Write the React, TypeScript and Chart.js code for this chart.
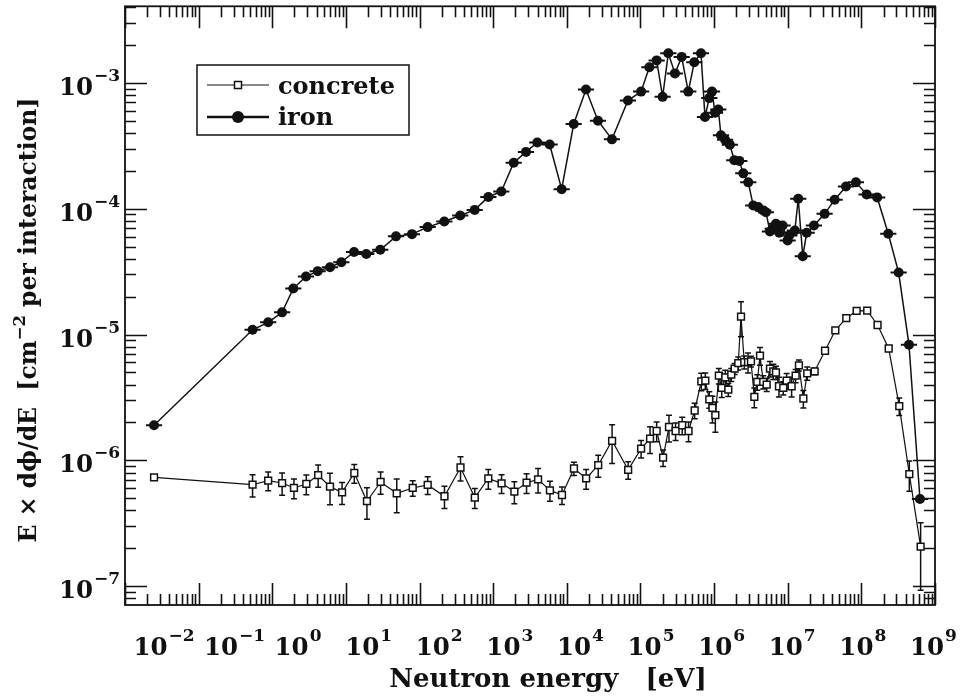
import React, { useEffect, useRef } from 'react';
import { Chart, registerables } from 'chart.js';
Chart.register(...registerables);

// ---------- data ----------
const concreteEnergy = [0.0248, 0.54, 0.88, 1.36, 1.97, 2.9, 4.2, 6.08, 8.87, 13.0,
  19.3, 29.6, 49, 80.8, 129, 218, 360, 563, 859, 1300,
  1940, 2840, 4070, 5900, 8600, 1.25e4, 1.83e4, 2.67e4, 4.12e4, 6.81e4,
  1.02e5, 1.35e5, 1.66e5, 2.03e5, 2.44e5, 3.0e5, 3.69e5, 4.5e5, 5.45e5, 6.7e5,
  7.6e5, 8.6e5, 9.5e5, 1.04e6, 1.16e6, 1.27e6, 1.42e6, 1.56e6, 1.71e6, 1.90e6,
  2.13e6, 2.32e6, 2.57e6, 2.89e6, 3.17e6, 3.52e6, 3.86e6, 4.2e6, 4.65e6, 5.18e6,
  5.74e6, 6.37e6, 6.92e6, 7.6e6, 8.7e6, 9.67e6, 1.13e7, 1.28e7, 1.42e7, 1.63e7,
  1.84e7, 2.32e7, 3.21e7, 4.43e7, 6.24e7, 8.63e7, 1.20e8, 1.66e8, 2.35e8, 3.27e8,
  4.48e8, 6.38e8];
const concreteFlux = [7.31e-7, 6.4e-7, 6.89e-7, 6.6e-7, 6.03e-7, 6.49e-7, 7.64e-7, 6.17e-7, 5.56e-7, 7.93e-7,
  4.73e-7, 6.73e-7, 5.47e-7, 6.03e-7, 6.37e-7, 5.18e-7, 8.77e-7, 5.06e-7, 7.18e-7, 6.56e-7,
  5.64e-7, 6.64e-7, 7.05e-7, 5.77e-7, 5.3e-7, 8.61e-7, 7.18e-7, 9.16e-7, 1.43e-6, 8.41e-7,
  1.24e-6, 1.49e-6, 1.71e-6, 1.05e-6, 1.84e-6, 1.71e-6, 1.9e-6, 1.71e-6, 2.49e-6, 4.25e-6,
  4.3e-6, 3.05e-6, 2.61e-6, 2.29e-6, 4.71e-6, 3.76e-6, 4.57e-6, 3.65e-6, 4.8e-6, 5.35e-6,
  5.93e-6, 1.39e-5, 6.04e-6, 6.04e-6, 6.12e-6, 3.19e-6, 4.2e-6, 6.79e-6, 4.2e-6, 4.0e-6,
  5.35e-6, 5.1e-6, 4.99e-6, 3.88e-6, 3.76e-6, 4.3e-6, 3.88e-6, 4.71e-6, 5.69e-6, 3.1e-6,
  4.92e-6, 5.1e-6, 7.43e-6, 1.08e-5, 1.35e-5, 1.54e-5, 1.55e-5, 1.19e-5, 7.74e-6, 2.7e-6,
  7.78e-7, 2.06e-7];
const concreteRelErr = [0.03, 0.2, 0.17, 0.2, 0.18, 0.18, 0.2, 0.28, 0.2, 0.17,
  0.28, 0.2, 0.3, 0.14, 0.16, 0.2, 0.22, 0.18, 0.18, 0.17,
  0.2, 0.18, 0.22, 0.18, 0.16, 0.12, 0.18, 0.2, 0.34, 0.16,
  0.16, 0.24, 0.18, 0.15, 0.24, 0.16, 0.16, 0.18, 0.14, 0.16,
  0.15, 0.15, 0.24, 0.27, 0.14, 0.16, 0.14, 0.12, 0.12, 0.1,
  0.12, 0.31, 0.12, 0.18, 0.1, 0.18, 0.14, 0.16, 0.12, 0.12,
  0.14, 0.14, 0.12, 0.18, 0.12, 0.14, 0.18, 0.12, 0.1, 0.16,
  0.12, 0.06, 0.05, 0.04, 0.03, 0.03, 0.03, 0.03, 0.05, 0.16,
  0.27, 0.55];

const ironEnergy = [0.0248, 0.54, 0.88, 1.36, 1.93, 2.87, 4.14, 6.08, 8.67, 12.9,
  18.9, 29.3, 47.9, 78.9, 129, 217, 357, 561, 859, 1290,
  1900, 2790, 3970, 5850, 8510, 1.24e4, 1.82e4, 2.65e4, 4.10e4, 6.76e4,
  1.02e5, 1.32e5, 1.66e5, 2.00e5, 2.39e5, 2.94e5, 3.63e5, 4.46e5, 5.38e5, 6.64e5,
  7.52e5, 8.6e5, 9.36e5, 1.03e6, 1.14e6, 1.24e6, 1.41e6, 1.64e6, 1.88e6, 2.20e6,
  2.49e6, 2.91e6, 3.40e6, 3.98e6, 4.65e6, 5.06e6, 5.74e6, 6.24e6, 6.92e6, 7.67e6,
  8.53e6, 9.97e6, 1.05e7, 1.25e7, 1.39e7, 1.60e7, 1.81e7, 2.27e7, 3.17e7, 4.34e7,
  6.18e7, 8.44e7, 1.18e8, 1.64e8, 2.32e8, 3.21e8, 4.43e8, 6.25e8];
const ironFlux = [1.9e-6, 1.09e-5, 1.25e-5, 1.5e-5, 2.32e-5, 2.89e-5, 3.19e-5, 3.43e-5, 3.76e-5, 4.53e-5,
  4.37e-5, 4.72e-5, 6.03e-5, 6.28e-5, 7.14e-5, 7.92e-5, 8.83e-5, 9.79e-5, 1.24e-4, 1.37e-4,
  2.32e-4, 2.83e-4, 3.36e-4, 3.24e-4, 1.43e-4, 4.71e-4, 8.85e-4, 5.01e-4, 3.56e-4, 7.24e-4,
  8.53e-4, 1.33e-3, 1.51e-3, 7.75e-4, 1.72e-3, 1.19e-3, 1.61e-3, 8.53e-4, 1.46e-3, 1.72e-3,
  5.36e-4, 7.57e-4, 8.53e-4, 5.79e-4, 6.15e-4, 3.84e-4, 3.53e-4, 3.22e-4, 2.43e-4, 2.40e-4,
  1.91e-4, 1.62e-4, 1.06e-4, 1.03e-4, 9.68e-5, 9.38e-5, 6.6e-5, 6.92e-5, 7.59e-5, 6.44e-5,
  7.36e-5, 5.6e-5, 6.13e-5, 6.72e-5, 1.2e-4, 4.19e-5, 6.44e-5, 7.36e-5, 9.1e-5, 1.18e-4,
  1.50e-4, 1.62e-4, 1.30e-4, 1.23e-4, 6.32e-5, 3.11e-5, 8.3e-6, 4.93e-7];
const ironBinHalfWidthDex = 0.11;

const xTickExponents = [-2, -1, 0, 1, 2, 3, 4, 5, 6, 7, 8, 9];
const yTickExponents = [-7, -6, -5, -4, -3];
const xMin = 1e-2;
const xMax = 1e9;
const yMin = Math.pow(10, -7.15);
const yMax = Math.pow(10, -2.391);

const xTitle = 'Neutron energy   [eV]';
const yTitleParts = ['E × dϕ/dE  [cm', '−2', ' per interaction]'];
const legendLabels = ['concrete', 'iron'];

// ---------- text helpers ----------
const FONT = '"DejaVu Serif", serif';
const INK = '#111';

function setFont(ctx: CanvasRenderingContext2D, size: number) {
  ctx.font = `bold ${size}px ${FONT}`;
}
function textWidth(ctx: CanvasRenderingContext2D, s: string, size: number) {
  ctx.save();
  setFont(ctx, size);
  const w = ctx.measureText(s).width;
  ctx.restore();
  return w;
}
function drawText(ctx: CanvasRenderingContext2D, s: string, x: number, y: number, size: number, align: CanvasTextAlign) {
  ctx.save();
  setFont(ctx, size);
  ctx.textAlign = align;
  ctx.textBaseline = 'alphabetic';
  ctx.fillStyle = INK;
  ctx.fillText(s, x, y);
  ctx.restore();
}
function supLabel(exp: number) {
  return exp < 0 ? '−' + Math.abs(exp) : String(exp);
}

const BASE = 24.5;
const SUP = 17;

const errorBarPlugin = {
  id: 'errorBars',
  beforeDatasetDraw(chart: any, args: any) {
    const { ctx, chartArea } = chart;
    const xs = chart.scales.x;
    const ys = chart.scales.y;
    ctx.save();
    ctx.beginPath();
    ctx.rect(chartArea.left, chartArea.top, chartArea.right - chartArea.left, chartArea.bottom - chartArea.top);
    ctx.clip();
    ctx.strokeStyle = INK;
    if (args.index === 0) {
      ctx.lineWidth = 1.5;
      concreteEnergy.forEach((e, i) => {
        const v = concreteFlux[i];
        const err = v * concreteRelErr[i];
        const px = xs.getPixelForValue(e);
        const top = ys.getPixelForValue(v + err);
        const lowV = v - err > 0 ? v - err : yMin / 10;
        const bot = ys.getPixelForValue(lowV);
        ctx.beginPath();
        ctx.moveTo(px, top);
        ctx.lineTo(px, bot);
        ctx.moveTo(px - 3, top);
        ctx.lineTo(px + 3, top);
        ctx.moveTo(px - 3, bot);
        ctx.lineTo(px + 3, bot);
        ctx.stroke();
      });
    } else if (args.index === 1) {
      ctx.lineWidth = 2;
      const f = Math.pow(10, ironBinHalfWidthDex);
      ironEnergy.forEach((e, i) => {
        const py = ys.getPixelForValue(ironFlux[i]);
        const l = xs.getPixelForValue(e / f);
        const r = xs.getPixelForValue(e * f);
        ctx.beginPath();
        ctx.moveTo(l, py);
        ctx.lineTo(r, py);
        ctx.stroke();
      });
    }
    ctx.restore();
  },
};

const framePlugin = {
  id: 'frameAndLabels',
  afterDraw(chart: any) {
    const { ctx, chartArea } = chart;
    const { left, right, top, bottom } = chartArea;
    const xs = chart.scales.x;
    const ys = chart.scales.y;
    ctx.save();
    ctx.strokeStyle = INK;
    ctx.lineWidth = 1.8;
    ctx.strokeRect(left, top, right - left, bottom - top);

    const MAJ = 22;
    const MIN = 11;
    ctx.lineWidth = 1.6;
    ctx.beginPath();
    for (let d = -2; d <= 9; d++) {
      for (let k = 1; k <= 9; k++) {
        const v = k * Math.pow(10, d);
        if (v < xMin * 0.999 || v > xMax * 1.001) continue;
        const px = Math.round(xs.getPixelForValue(v)) + 0.5;
        const len = k === 1 ? MAJ : MIN;
        ctx.moveTo(px, bottom);
        ctx.lineTo(px, bottom - len);
        ctx.moveTo(px, top);
        ctx.lineTo(px, top + len);
      }
    }
    for (let d = -8; d <= -2; d++) {
      for (let k = 1; k <= 9; k++) {
        const v = k * Math.pow(10, d);
        if (v < yMin || v > yMax) continue;
        const py = Math.round(ys.getPixelForValue(v)) + 0.5;
        const len = k === 1 ? MAJ : MIN;
        ctx.moveTo(left, py);
        ctx.lineTo(left + len, py);
        ctx.moveTo(right, py);
        ctx.lineTo(right - len, py);
      }
    }
    ctx.stroke();

    // x tick labels (spread slightly narrower than the ticks, as in the original)
    const cx = (left + right) / 2;
    xTickExponents.forEach((d) => {
      const tickX = xs.getPixelForValue(Math.pow(10, d));
      const px = cx + 8.7 + (tickX - cx) * 0.9587;
      const w = textWidth(ctx, '10', BASE);
      drawText(ctx, '10', px, bottom + 50, BASE, 'center');
      drawText(ctx, supLabel(d), px + w / 2 + 1, bottom + 36, SUP, 'left');
    });
    // y tick labels
    yTickExponents.forEach((d) => {
      const py = ys.getPixelForValue(Math.pow(10, d));
      drawText(ctx, '10', left - 32, py + 12, BASE, 'right');
      drawText(ctx, supLabel(d), left - 31, py - 2, SUP, 'left');
    });

    // x title
    drawText(ctx, xTitle, cx + 18, bottom + 82, 26, 'center');

    // y title (rotated)
    const YT = 23.5;
    const YS = 16.5;
    const w0 = textWidth(ctx, yTitleParts[0], YT);
    const w1 = textWidth(ctx, yTitleParts[1], YS);
    const w2 = textWidth(ctx, yTitleParts[2], YT);
    const total = w0 + w1 + w2;
    ctx.save();
    ctx.translate(36, 320);
    ctx.rotate(-Math.PI / 2);
    let tx = -total / 2;
    drawText(ctx, yTitleParts[0], tx, 0, YT, 'left');
    tx += w0;
    drawText(ctx, yTitleParts[1], tx, -11, YS, 'left');
    tx += w1;
    drawText(ctx, yTitleParts[2], tx, 0, YT, 'left');
    ctx.restore();

    // legend
    const bx = 197, by = 65, bw = 212, bh = 70;
    ctx.fillStyle = '#fff';
    ctx.fillRect(bx, by, bw, bh);
    ctx.lineWidth = 1.5;
    ctx.strokeStyle = INK;
    ctx.strokeRect(bx, by, bw, bh);
    const rows = [85, 117];
    ctx.lineWidth = 1.2;
    ctx.beginPath();
    ctx.moveTo(207, rows[0]);
    ctx.lineTo(269, rows[0]);
    ctx.stroke();
    ctx.fillStyle = '#fff';
    ctx.fillRect(234.5, rows[0] - 3.5, 7, 7);
    ctx.lineWidth = 1.5;
    ctx.strokeRect(234.5, rows[0] - 3.5, 7, 7);
    ctx.lineWidth = 2.5;
    ctx.beginPath();
    ctx.moveTo(207, rows[1]);
    ctx.lineTo(269, rows[1]);
    ctx.stroke();
    ctx.fillStyle = INK;
    ctx.beginPath();
    ctx.arc(238, rows[1], 6, 0, Math.PI * 2);
    ctx.fill();
    drawText(ctx, legendLabels[0], 278, rows[0] + 9, 24, 'left');
    drawText(ctx, legendLabels[1], 278, rows[1] + 8, 24, 'left');
    ctx.restore();
  },
};

export default function App() {
  const canvasRef = useRef<HTMLCanvasElement | null>(null);
  useEffect(() => {
    const canvas = canvasRef.current;
    if (!canvas) return;
    const chart = new Chart(canvas, {
      type: 'scatter',
      data: {
        datasets: [
          {
            label: legendLabels[0],
            data: concreteEnergy.map((e, i) => ({ x: e, y: concreteFlux[i] })),
            showLine: true,
            borderColor: INK,
            borderWidth: 1.2,
            pointStyle: 'rect',
            pointRadius: 4.8,
            pointBackgroundColor: '#fff',
            pointBorderColor: INK,
            pointBorderWidth: 1.5,
            tension: 0,
            clip: 6,
          },
          {
            label: legendLabels[1],
            data: ironEnergy.map((e, i) => ({ x: e, y: ironFlux[i] })),
            showLine: true,
            borderColor: INK,
            borderWidth: 1.5,
            pointStyle: 'circle',
            pointRadius: 5,
            pointBackgroundColor: INK,
            pointBorderColor: INK,
            pointBorderWidth: 0,
            tension: 0,
            clip: 6,
          },
        ],
      },
      options: {
        animation: false,
        responsive: false,
        devicePixelRatio: 1,
        layout: { padding: { left: 125, top: 3, right: 30, bottom: 91 } },
        scales: {
          x: { type: 'logarithmic', min: xMin, max: xMax, display: false },
          y: { type: 'logarithmic', min: yMin, max: yMax, display: false },
        },
        plugins: { legend: { display: false }, tooltip: { enabled: false } },
      },
      plugins: [errorBarPlugin, framePlugin],
    } as any);
    return () => chart.destroy();
  }, []);
  return (
    <div style={{ position: 'absolute', left: 0, top: 0, width: 965, height: 696, background: '#fff' }}>
      <canvas ref={canvasRef} width={965} height={696} />
    </div>
  );
}
